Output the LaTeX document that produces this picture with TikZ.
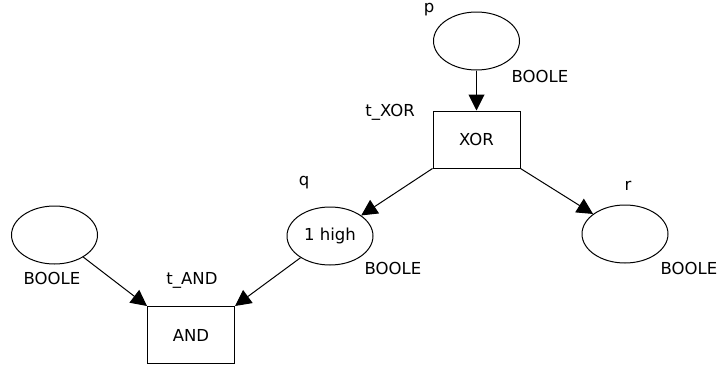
\documentclass[tikz,border=0pt]{standalone}
\usepackage{fontspec}
\setmainfont{DejaVu Sans}
\usetikzlibrary{arrows.meta,shapes.geometric}
\begin{document}
\begin{tikzpicture}[x=1pt,y=-1pt,
  place/.style={draw,ellipse,minimum width=86pt,minimum height=58pt,inner sep=0pt,line width=1pt},
  trans/.style={draw,rectangle,minimum width=87pt,minimum height=57pt,inner sep=0pt,line width=1pt},
  lbl/.style={inner sep=0pt},
  arc/.style={-{Triangle[length=16pt,width=16pt]},line width=1pt}]
\useasboundingbox (0,0) rectangle (718,370);
\tikzset{every node/.append style={font=\fontsize{16.5}{19}\selectfont}}
% places
\node[place] (p) at (476.5,41) {};
\node[place] (q) at (330,236) {1 high};
\node[place] (r) at (625,234) {};
\node[place] (a) at (54.5,235) {};
% transitions
\node[trans] (xor) at (476.5,139.5) {XOR};
\node[trans] (and) at (191,335) {AND};
% labels
\node[lbl] (lp) at (429,9.5) {p};
\node[lbl] (lpB) at (540,76) {BOOLE};
\node[lbl] (lxor) at (390,112) {t\_XOR};
\node[lbl] (lq) at (304,183) {q};
\node[lbl] (lqB) at (393,268) {BOOLE};
\node[lbl] (lr) at (628,186) {r};
\node[lbl] (lrB) at (689,268) {BOOLE};
\node[lbl] (laB) at (52,278) {BOOLE};
\node[lbl] (land) at (192,280) {t\_AND};
% arcs
\draw[arc] (p) -- (xor);
\draw[arc] (xor.south west) -- (q);
\draw[arc] (xor.south east) -- (r);
\draw[arc] (a) -- (and.north west);
\draw[arc] (q) -- (and.north east);
\end{tikzpicture}
\end{document}
